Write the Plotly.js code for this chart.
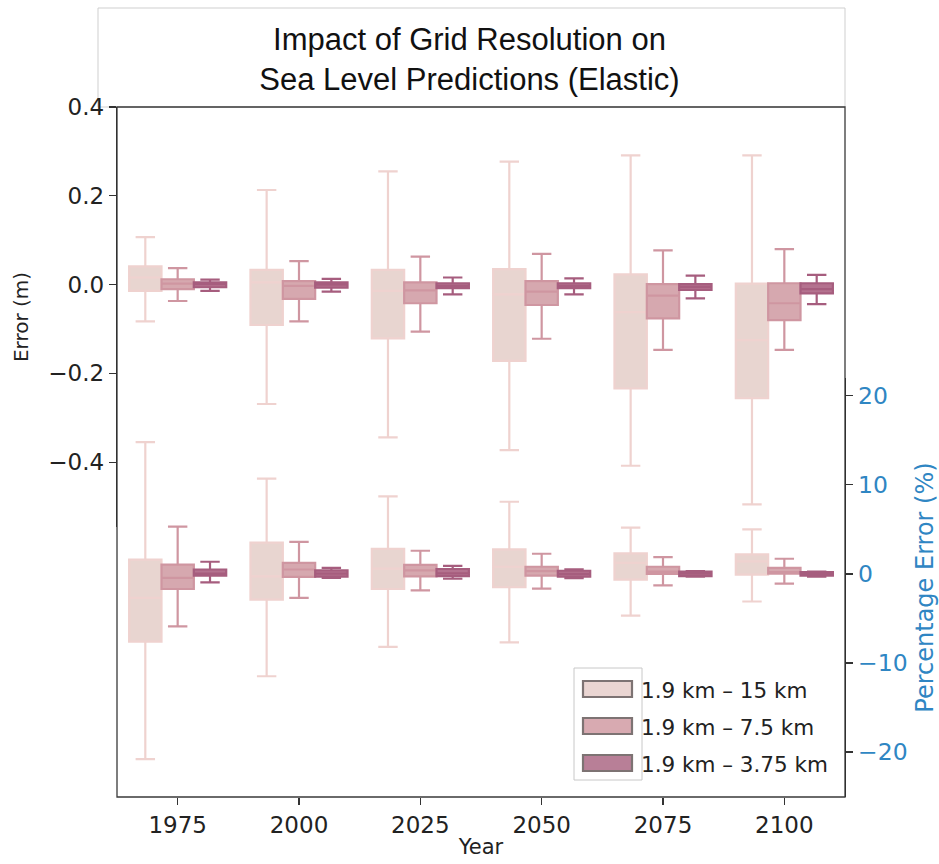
<!DOCTYPE html>
<html>
<head>
<meta charset="utf-8">
<script src="https://cdn.plot.ly/plotly-3.0.1.min.js"></script>
<style>html,body{margin:0;padding:0;background:#fff;}#chart{width:939px;height:864px;}</style>
</head>
<body>
<div id="chart"></div>
<script>
// ---- data ----
const years = ["1975", "2000", "2025", "2050", "2075", "2100"];
const seriesNames = ["1.9 km \u2013 15 km", "1.9 km \u2013 7.5 km", "1.9 km \u2013 3.75 km"];
const fillColors = ["#e8d5d0", "#d6a8af", "#b4728f"];
const lineColors = ["#efd2cf", "#cf96a1", "#a65d7e"];
const legendFill = ["#ead5d2", "#d8aab1", "#b87f97"];

// Error (m)
const m15_upper = [0.107, 0.213, 0.255, 0.277, 0.291, 0.291];
const m15_q3    = [0.041, 0.033, 0.033, 0.035, 0.023, 0.002];
const m15_med   = [0.016, 0.005, -0.014, -0.022, -0.062, -0.125];
const m15_q1    = [-0.014, -0.091, -0.121, -0.172, -0.234, -0.256];
const m15_lower = [-0.083, -0.269, -0.344, -0.373, -0.408, -0.495];

const m75_upper = [0.037, 0.053, 0.063, 0.069, 0.077, 0.080];
const m75_q3    = [0.012, 0.008, 0.005, 0.008, 0.001, 0.003];
const m75_med   = [0.002, -0.003, -0.013, -0.016, -0.025, -0.042];
const m75_q1    = [-0.010, -0.032, -0.042, -0.046, -0.076, -0.080];
const m75_lower = [-0.037, -0.083, -0.106, -0.122, -0.147, -0.147];

const m375_upper = [0.011, 0.013, 0.016, 0.014, 0.020, 0.022];
const m375_q3    = [0.005, 0.005, 0.003, 0.003, 0.001, 0.003];
const m375_med   = [0.001, 0.000, -0.003, -0.003, -0.005, -0.010];
const m375_q1    = [-0.006, -0.007, -0.008, -0.008, -0.012, -0.020];
const m375_lower = [-0.014, -0.016, -0.022, -0.022, -0.031, -0.044];

// Percentage Error (%)
const p15_upper = [14.8, 10.7, 8.7, 8.1, 5.2, 5.0];
const p15_q3    = [1.6, 3.5, 2.8, 2.75, 2.3, 2.2];
const p15_med   = [-2.7, -0.27, 0.6, 0.8, 1.24, 1.4];
const p15_q1    = [-7.6, -2.9, -1.7, -1.5, -0.64, -0.08];
const p15_lower = [-20.8, -11.5, -8.2, -7.7, -4.7, -3.1];

const p75_upper = [5.3, 3.6, 2.6, 2.26, 1.88, 1.7];
const p75_q3    = [1.05, 1.24, 1.0, 0.8, 0.8, 0.68];
const p75_med   = [-0.45, 0.49, 0.4, 0.3, 0.26, 0.2];
const p75_q1    = [-1.7, -0.34, -0.27, -0.2, 0.0, 0.03];
const p75_lower = [-5.9, -2.7, -1.86, -1.66, -1.3, -1.1];

const p375_upper = [1.36, 0.68, 0.9, 0.5, 0.3, 0.26];
const p375_q3    = [0.49, 0.4, 0.55, 0.35, 0.26, 0.2];
const p375_med   = [0.03, 0.03, 0.05, 0.0, 0.03, 0.0];
const p375_q1    = [-0.2, -0.3, -0.25, -0.3, -0.25, -0.2];
const p375_lower = [-0.95, -0.45, -0.55, -0.47, -0.3, -0.3];

const topStats = [
  [m15_lower, m15_q1, m15_med, m15_q3, m15_upper],
  [m75_lower, m75_q1, m75_med, m75_q3, m75_upper],
  [m375_lower, m375_q1, m375_med, m375_q3, m375_upper]
];
const botStats = [
  [p15_lower, p15_q1, p15_med, p15_q3, p15_upper],
  [p75_lower, p75_q1, p75_med, p75_q3, p75_upper],
  [p375_lower, p375_q1, p375_med, p375_q3, p375_upper]
];

function makeBox(st, i, yaxis) {
  return {
    type: "box",
    name: seriesNames[i],
    x: years,
    lowerfence: st[0], q1: st[1], median: st[2], q3: st[3], upperfence: st[4],
    boxpoints: false,
    xaxis: "x", yaxis: yaxis,
    offsetgroup: String(i),
    fillcolor: fillColors[i],
    line: {color: lineColors[i], width: 2.2},
    whiskerwidth: 0.6,
    showlegend: false,
    hoverinfo: "skip"
  };
}

const traces = [];
for (let i = 0; i < 3; i++) traces.push(makeBox(topStats[i], i, "y"));
for (let i = 0; i < 3; i++) traces.push(makeBox(botStats[i], i, "y2"));

const FONT = "DejaVu Sans, sans-serif";
const W = 728, H = 690, L = 117, T = 107;
function px(x) { return (x - L) / W; }
function py(y) { return (T + H - y) / H; }

const shapes = [
  // title box
  {type: "rect", xref: "paper", yref: "paper", x0: px(98), x1: 1, y0: 1, y1: py(8),
   line: {color: "#cfcfcf", width: 1}, fillcolor: "rgba(0,0,0,0)", layer: "below"},
  // plot frame
  {type: "rect", xref: "paper", yref: "paper", x0: 0, x1: 1, y0: 0, y1: 1,
   line: {color: "#3a3a3a", width: 1.3}, fillcolor: "rgba(0,0,0,0)"},
  // legend frame
  {type: "rect", xref: "paper", yref: "paper", x0: px(574), x1: px(642), y0: py(780), y1: py(668),
   line: {color: "#c8c8c8", width: 1}, fillcolor: "rgba(255,255,255,1)"}
];
const annotations = [];
const legendY = [689, 726, 763];
for (let i = 0; i < 3; i++) {
  shapes.push({type: "rect", xref: "paper", yref: "paper",
    x0: px(583), x1: px(632), y0: py(legendY[i] + 8), y1: py(legendY[i] - 8),
    line: {color: "#7d7373", width: 2.2}, fillcolor: legendFill[i]});
  annotations.push({xref: "paper", yref: "paper", x: px(639), y: py(legendY[i] + 1),
    xanchor: "left", yanchor: "middle", showarrow: false, text: seriesNames[i],
    font: {family: FONT, size: 21.5, color: "#222"}});
}

const layout = {
  width: 939, height: 864,
  margin: {l: L, r: 939 - L - W, t: T, b: 864 - T - H, pad: 0},
  paper_bgcolor: "#fff", plot_bgcolor: "rgba(0,0,0,0)",
  title: {text: "Impact of Grid Resolution on<br>Sea Level Predictions (Elastic)",
    x: 0.5, xref: "container", xanchor: "center", y: 1 - 50 / 864, yref: "container", yanchor: "middle",
    font: {family: "Liberation Sans, Arial, sans-serif", size: 31, color: "#111"}},
  boxmode: "group", boxgap: 0.2, boxgroupgap: 0,
  showlegend: false,
  xaxis: {type: "category", categoryorder: "array", categoryarray: years, range: [-0.5, 5.5],
    anchor: "y2", showline: false, showgrid: false, zeroline: false,
    ticks: "outside", ticklen: 7, tickwidth: 1.3, tickcolor: "#333",
    tickfont: {family: FONT, size: 23, color: "#222"},
    title: {text: "Year", font: {family: FONT, size: 21, color: "#222"}, standoff: 2}},
  yaxis: {domain: [py(527), 1], range: [-0.546, 0.4], anchor: "x", side: "left",
    tickvals: [-0.4, -0.2, 0, 0.2, 0.4], tickformat: ".1f",
    showline: true, linecolor: "#222", linewidth: 1.3, showgrid: false, zeroline: false,
    ticks: "outside", ticklen: 7, tickwidth: 1.3, tickcolor: "#333",
    tickfont: {family: FONT, size: 23, color: "#222"},
    title: {text: "Error (m)", font: {family: FONT, size: 20, color: "#222"}, standoff: 14}},
  yaxis2: {domain: [0, py(378)], range: [-25.06, 22.0], anchor: "x", side: "right",
    tickvals: [-20, -10, 0, 10, 20],
    showline: true, linecolor: "#222", linewidth: 1.3, showgrid: false, zeroline: false,
    ticks: "outside", ticklen: 7, tickwidth: 1.3, tickcolor: "#333",
    tickfont: {family: FONT, size: 23.5, color: "#2f86c3"},
    title: {text: "Percentage Error (%)", font: {family: FONT, size: 24, color: "#2f86c3"}, standoff: 10}},
  shapes: shapes,
  annotations: annotations
};

Plotly.newPlot("chart", traces, layout, {staticPlot: true, displayModeBar: false});
</script>
</body>
</html>
